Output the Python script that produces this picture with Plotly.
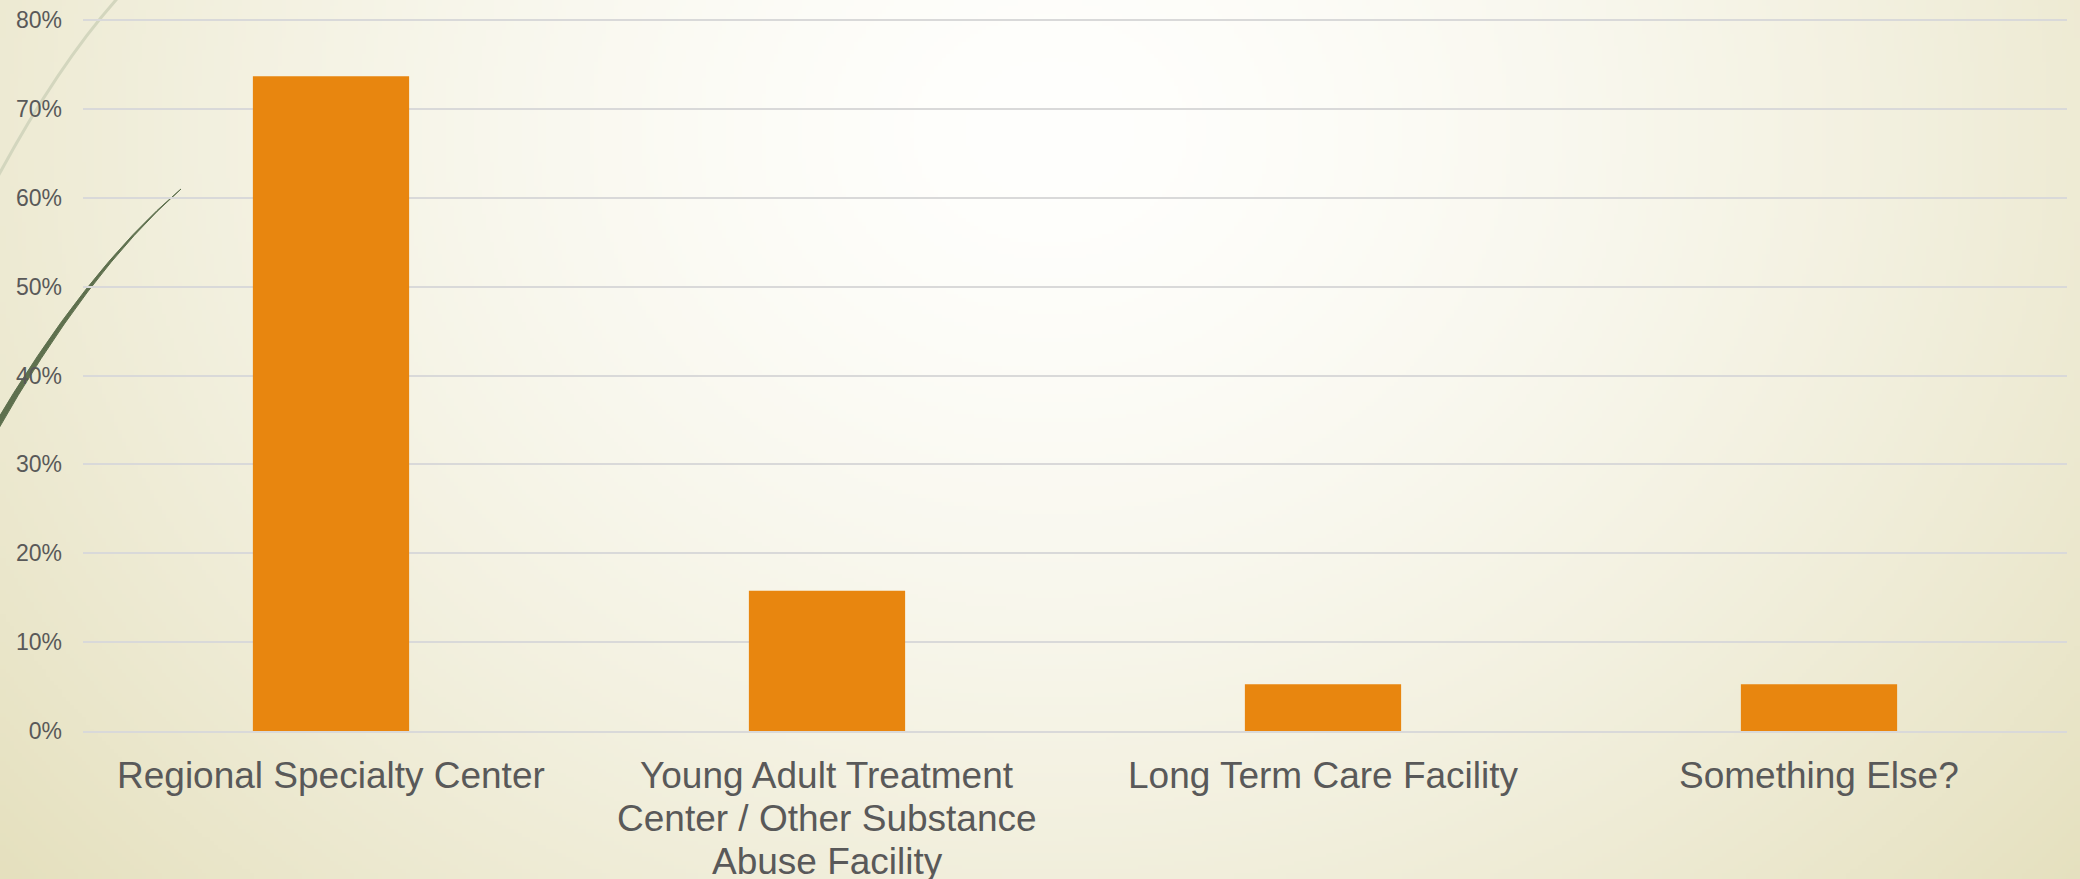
import base64
import struct
import zlib

import numpy as np
import plotly.graph_objects as go

# Survey results: share of responses per preferred facility type
categories = [
    "Regional Specialty Center",
    "Young Adult Treatment<br>Center / Other Substance<br>Abuse Facility",
    "Long Term Care Facility",
    "Something Else?",
]
shares = [0.7368, 0.1579, 0.0526, 0.0526]
y_tickvals = [0, 0.1, 0.2, 0.3, 0.4, 0.5, 0.6, 0.7, 0.8]
y_ticktext = ["0%", "10%", "20%", "30%", "40%", "50%", "60%", "70%", "80%"]

W, H = 2080, 879
ML, MR, MT, MB = 83, 13, 19, 148
PW, PH = W - ML - MR, H - MT - MB

BAR_COLOR = "#E8860F"
TEXT_COLOR = "#595959"
GRID_COLOR = "#D9D9D9"
FONT = "Liberation Sans, Arial, sans-serif"
LABEL_SIZE = 37
LABEL_FIRST_LINE_Y = 775   # px from top, centre of first label line
LABEL_LINE_STEP = 43       # px between label lines


def png_data_uri(rgb):
    """Encode an HxWx3 uint8 array as a PNG data URI."""
    h, w, _ = rgb.shape
    raw = b"".join(b"\x00" + rgb[r].tobytes() for r in range(h))

    def chunk(tag, data):
        return (struct.pack(">I", len(data)) + tag + data
                + struct.pack(">I", zlib.crc32(tag + data) & 0xFFFFFFFF))

    png = (b"\x89PNG\r\n\x1a\n"
           + chunk(b"IHDR", struct.pack(">IIBBBBB", w, h, 8, 2, 0, 0, 0))
           + chunk(b"IDAT", zlib.compress(raw, 9))
           + chunk(b"IEND", b""))
    return "data:image/png;base64," + base64.b64encode(png).decode()


# Soft radial slide background: white centre fading to warm beige
gw, gh = 520, 220
gx = (np.arange(gw) + 0.5) * W / gw
gy = (np.arange(gh) + 0.5) * H / gh
X, Y = np.meshgrid(gx, gy)
d = np.sqrt(((X - 1050) / 1200) ** 2 + ((Y - 130) / 1000) ** 2)
f = np.clip(d, 0, 1.2) ** 1.5
white = np.array([255, 255, 253], dtype=float)
edge = np.array([234, 230, 202], dtype=float)
bg = white[None, None, :] + (edge - white)[None, None, :] * f[..., None]
bg = np.clip(bg, 0, 255).astype(np.uint8)


def px(x):
    return (x - ML) / PW


def py(y):
    return (H - MB - y) / PH


def pt(x, y):
    return f"{px(x):.5f},{py(y):.5f}"


fig = go.Figure()

fig.add_trace(go.Bar(
    x=categories,
    y=shares,
    marker=dict(color=BAR_COLOR, line=dict(width=0)),
    hoverinfo="y",
))

# Category labels, one annotation per wrapped line for tight line spacing
label_annotations = []
for cat in categories:
    for i, line in enumerate(cat.split("<br>")):
        label_annotations.append(dict(
            x=cat, xref="x",
            y=py(LABEL_FIRST_LINE_Y + i * LABEL_LINE_STEP), yref="paper",
            text=line, showarrow=False,
            xanchor="center", yanchor="middle",
            font=dict(size=LABEL_SIZE, color=TEXT_COLOR, family=FONT),
        ))

# Decorative swooshes along the left edge of the slide
light_curve = f"M {pt(125, -10)} Q {pt(60, 60)} {pt(-5, 182)}"
dark_curve = (
    f"M {pt(181, 189)} Q {pt(85, 270)} {pt(-10, 432)} "
    f"L {pt(-5, 435)} Q {pt(87, 272)} {pt(181, 189)} Z"
)

fig.update_layout(
    width=W,
    height=H,
    margin=dict(l=ML, r=MR, t=MT, b=MB, pad=0, autoexpand=False),
    paper_bgcolor="rgba(0,0,0,0)",
    plot_bgcolor="rgba(0,0,0,0)",
    bargap=0.685,
    showlegend=False,
    font=dict(family=FONT, color=TEXT_COLOR),
    annotations=label_annotations,
    images=[dict(
        source=png_data_uri(bg),
        xref="paper", yref="paper",
        x=px(0), y=py(0),
        sizex=W / PW, sizey=H / PH,
        xanchor="left", yanchor="top",
        sizing="stretch",
        layer="below",
    )],
    shapes=[
        dict(type="path", path=light_curve, xref="paper", yref="paper",
             line=dict(color="#D3D6BE", width=3), layer="below"),
        dict(type="path", path=dark_curve, xref="paper", yref="paper",
             fillcolor="#5E704E", line=dict(color="#5E704E", width=1),
             layer="below"),
    ],
    xaxis=dict(
        automargin=False,
        showgrid=False,
        showline=True,
        linecolor=GRID_COLOR,
        linewidth=1.5,
        ticks="",
        showticklabels=False,
        zeroline=False,
    ),
    yaxis=dict(
        automargin=False,
        range=[0, 0.8012],
        tickvals=y_tickvals,
        ticktext=y_ticktext,
        showgrid=True,
        gridcolor=GRID_COLOR,
        gridwidth=1.5,
        zeroline=False,
        showline=False,
        ticks="",
        tickfont=dict(size=23, color=TEXT_COLOR, family=FONT),
        ticklabelstandoff=20,
    ),
)

fig.write_html("out.html")
